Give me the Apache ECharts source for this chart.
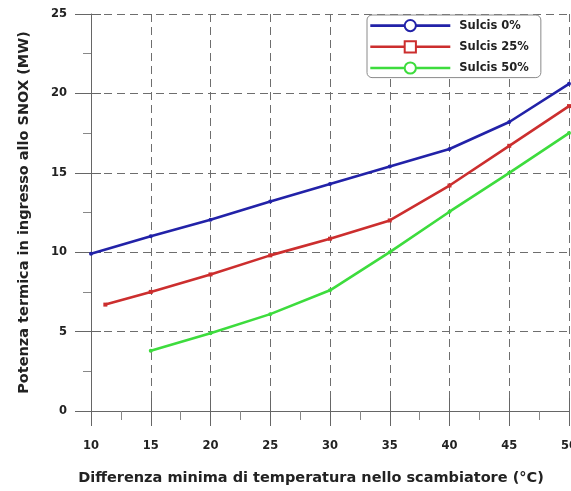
<!DOCTYPE html>
<html>
<head>
<meta charset="utf-8">
<style>
  html, body { margin: 0; padding: 0; background: #fff; }
  #chart { width: 571px; height: 491px; }
</style>
<script src="https://cdn.jsdelivr.net/npm/echarts@6/dist/echarts.min.js"></script>
</head>
<body>
<div id="chart"></div>
<script>
// Potenza termica vs differenza minima di temperatura
const xTicks = [10, 15, 20, 25, 30, 35, 40, 45, 50];
const yTicks = [0, 5, 10, 15, 20, 25];

const sulcis0X  = [10, 15, 20, 25, 30, 35, 40, 45, 50];
const sulcis0Y  = [9.9, 11.0, 12.05, 13.2, 14.3, 15.4, 16.5, 18.2, 20.6];

const sulcis25X = [11.2, 15, 20, 25, 30, 35, 40, 45, 50];
const sulcis25Y = [6.7, 7.5, 8.6, 9.8, 10.85, 12.0, 14.2, 16.7, 19.2];

const sulcis50X = [15, 20, 25, 30, 35, 40, 45, 50];
const sulcis50Y = [3.8, 4.9, 6.1, 7.6, 10.0, 12.55, 15.0, 17.5];

const names = ['Sulcis 0%', 'Sulcis 25%', 'Sulcis 50%'];
const colors = ['#2222a8', '#cc2e2e', '#3ddc3d'];

const pair = (xs, ys) => xs.map((x, i) => [x, ys[i]]);

const FONT = 'DejaVu Sans, Verdana, sans-serif';
const xStep = xTicks[1] - xTicks[0];
const yStep = yTicks[1] - yTicks[0];

const chart = echarts.init(document.getElementById('chart'), null, { renderer: 'canvas' });

const axisLine = { show: true, lineStyle: { color: '#666', width: 1 } };
const dashed = { show: true, lineStyle: { color: '#6e6e6e', width: 1, type: [8, 5] } };

function mkSeries(i, xs, ys, symbol) {
  return {
    name: names[i],
    type: 'line',
    data: pair(xs, ys),
    symbol: symbol,
    symbolSize: 2,
    showSymbol: true,
    lineStyle: { color: colors[i], width: 2.6 },
    itemStyle: { color: colors[i], borderColor: colors[i], borderWidth: 1.2 },
    emphasis: { disabled: true },
    clip: false,
    z: 3
  };
}

chart.setOption({
  backgroundColor: '#ffffff',
  animation: false,
  grid: { left: 91, right: 2, top: 14, bottom: 80, containLabel: false, outerBoundsMode: 'none' },
  legend: {
    orient: 'vertical',
    left: 367,
    top: 15,
    data: names,
    itemWidth: 80,
    itemHeight: 14,
    itemGap: 8,
    padding: [4, 12, 3, 2],
    borderColor: '#8a8a8a',
    borderWidth: 1,
    borderRadius: 5,
    backgroundColor: '#ffffff',
    lineStyle: { width: 2.6 },
    textStyle: { fontFamily: FONT, fontSize: 11.5, fontWeight: 'bold', color: '#222', padding: [0, 0, 0, 4] }
  },
  xAxis: [
    {
      type: 'value',
      min: xTicks[0], max: xTicks[xTicks.length - 1], interval: xStep,
      position: 'bottom',
      name: 'Differenza minima di temperatura nello scambiatore (°C)',
      nameLocation: 'middle',
      nameGap: 60,
      nameTextStyle: { fontFamily: FONT, fontSize: 14.5, fontWeight: 'bold', color: '#222', padding: [0, 38, 0, 0] },
      axisLine: axisLine,
      axisTick: { show: true, length: 15, lineStyle: { color: '#666' } },
      minorTick: { show: true, splitNumber: 2, length: 9, lineStyle: { color: '#888' } },
      axisLabel: { fontFamily: FONT, fontSize: 11.5, fontWeight: 'bold', color: '#222', margin: 29 },
      splitLine: dashed
    },
    {
      type: 'value',
      min: xTicks[0], max: xTicks[xTicks.length - 1], interval: xStep,
      position: 'bottom',
      axisLine: { show: false },
      axisTick: { show: true, inside: true, length: 13, lineStyle: { color: '#666' } },
      axisLabel: { show: false },
      splitLine: { show: false }
    }
  ],
  yAxis: [
    {
      type: 'value',
      min: yTicks[0], max: yTicks[yTicks.length - 1], interval: yStep,
      position: 'left',
      name: 'Potenza termica in ingresso allo SNOX (MW)',
      nameLocation: 'middle',
      nameGap: 59,
      nameTextStyle: { fontFamily: FONT, fontSize: 14.5, fontWeight: 'bold', color: '#222' },
      axisLine: axisLine,
      axisTick: { show: true, length: 16, lineStyle: { color: '#666' } },
      minorTick: { show: true, splitNumber: 2, length: 8, lineStyle: { color: '#888' } },
      axisLabel: { fontFamily: FONT, fontSize: 11.5, fontWeight: 'bold', color: '#222', margin: 24 },
      splitLine: dashed
    },
    {
      type: 'value',
      min: yTicks[0], max: yTicks[yTicks.length - 1], interval: yStep,
      position: 'left',
      axisLine: { show: false },
      axisTick: { show: true, inside: true, length: 10, lineStyle: { color: '#666' } },
      axisLabel: { show: false },
      splitLine: { show: false }
    }
  ],
  series: [
    mkSeries(0, sulcis0X, sulcis0Y, 'emptyCircle'),
    mkSeries(1, sulcis25X, sulcis25Y, 'emptyRect'),
    mkSeries(2, sulcis50X, sulcis50Y, 'emptyCircle')
  ]
});
</script>
</body>
</html>
